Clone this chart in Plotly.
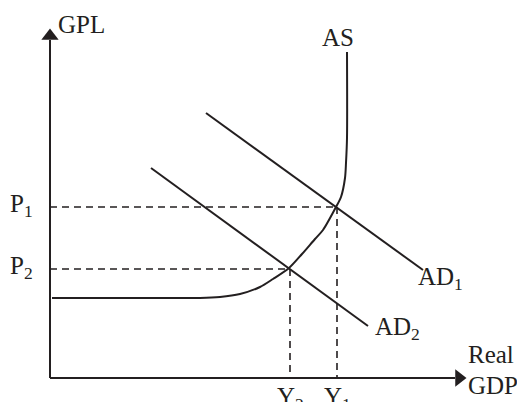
import plotly.graph_objects as go

# Diagram values (x = real GDP units, y = price level units)
p_levels = [171, 109]            # P1, P2
p_labels = ["P<sub>1</sub>", "P<sub>2</sub>"]
y_levels = [287, 240]            # Y1, Y2
y_labels = ["Y<sub>1</sub>", "Y<sub>2</sub>"]

as_x = [2, 80, 123, 150, 170, 190, 210, 223, 239, 252, 265, 273, 286, 291, 295, 296, 297, 297]
as_y = [80, 80, 80, 80, 81, 84, 91, 99, 110, 124, 139, 148, 171, 181, 200, 215, 240, 326]

ad1_x = [156, 373]
ad1_y = [265, 108]
ad2_x = [101, 318]
ad2_y = [210, 52]

x_axis_end = 417
y_axis_end = 350

ink = "#231f20"
font = dict(family="Liberation Serif, Times New Roman, serif", size=25, color=ink)

fig = go.Figure()

# axes
fig.add_trace(go.Scatter(x=[0, 0], y=[0, y_axis_end - 12], mode="lines",
                         line=dict(color=ink, width=2), hoverinfo="skip"))
fig.add_trace(go.Scatter(x=[0, x_axis_end - 12], y=[0, 0], mode="lines",
                         line=dict(color=ink, width=2), hoverinfo="skip"))
fig.add_trace(go.Scatter(x=[0], y=[y_axis_end - 8], mode="markers",
                         marker=dict(symbol="triangle-up", size=15, color=ink), hoverinfo="skip"))
fig.add_trace(go.Scatter(x=[x_axis_end - 8], y=[0], mode="markers",
                         marker=dict(symbol="triangle-right", size=15, color=ink), hoverinfo="skip"))

# dashed guides
for (px, py) in [(y_levels[0], p_levels[0]), (y_levels[1], p_levels[1])]:
    fig.add_trace(go.Scatter(x=[0, px], y=[py, py], mode="lines",
                             line=dict(color=ink, width=1.6, dash="7px,5px"), hoverinfo="skip"))
    fig.add_trace(go.Scatter(x=[px, px], y=[py, 0], mode="lines",
                             line=dict(color=ink, width=1.6, dash="7px,5px"), hoverinfo="skip"))

# curves
fig.add_trace(go.Scatter(x=as_x, y=as_y, mode="lines", line=dict(color=ink, width=2, shape="spline", smoothing=0.8),
                         hoverinfo="skip"))
fig.add_trace(go.Scatter(x=ad1_x, y=ad1_y, mode="lines", line=dict(color=ink, width=2), hoverinfo="skip"))
fig.add_trace(go.Scatter(x=ad2_x, y=ad2_y, mode="lines", line=dict(color=ink, width=2), hoverinfo="skip"))

annotations = [
    dict(x=6, y=354, text="GPL", xanchor="left", yanchor="middle"),
    dict(x=288, y=341, text="AS", xanchor="center", yanchor="middle"),
    dict(x=366, y=100, text="AD<sub>1</sub>", xanchor="left", yanchor="middle"),
    dict(x=323, y=50, text="AD<sub>2</sub>", xanchor="left", yanchor="middle"),
    dict(x=416, y=24, text="Real", xanchor="left", yanchor="middle"),
    dict(x=416, y=-7, text="GDP", xanchor="left", yanchor="middle"),
]
for lab, val in zip(p_labels, p_levels):
    annotations.append(dict(x=-42, y=val + 2, text=lab, xanchor="left", yanchor="middle"))
for lab, val in zip(y_labels, y_levels):
    annotations.append(dict(x=val, y=-3, text=lab, xanchor="center", yanchor="top"))
for a in annotations:
    a.update(showarrow=False, font=font, xref="x", yref="y")

# the page body adds an 8px offset; figure is sized to the remaining window
fig.update_layout(
    width=517, height=394,
    margin=dict(l=0, r=0, t=0, b=0),
    paper_bgcolor="white", plot_bgcolor="white",
    showlegend=False,
    xaxis=dict(range=[-42, 475], visible=False, fixedrange=True),
    yaxis=dict(range=[-24, 370], visible=False, fixedrange=True),
    annotations=annotations,
)

fig.write_html("out.html")
